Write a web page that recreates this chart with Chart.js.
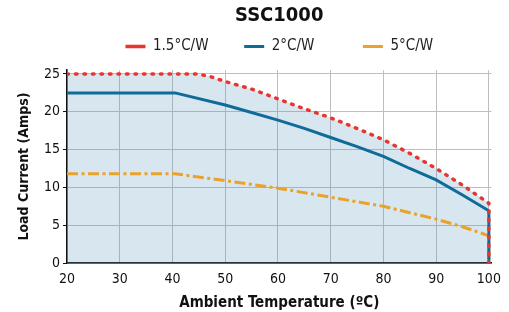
<!DOCTYPE html>
<html>
<head>
<meta charset="utf-8">
<script src="https://cdn.jsdelivr.net/npm/chart.js@4"></script>
<style>
  html, body { margin: 0; padding: 0; background: #fff; }
  #wrap { width: 509px; height: 312px; }
</style>
</head>
<body>
<div id="wrap"><canvas id="deratingChart" width="509" height="312"></canvas></div>
<script>
// values (temperature in C, current in amps)
const titleText = "SSC1000";
const seriesNames = ["1.5\u00B0C/W", "2\u00B0C/W", "5\u00B0C/W"];

const tempRed = [20, 44.5, 47, 50, 55, 60, 65, 70, 75, 80, 85, 90, 95, 100, 100];
const ampsRed = [25, 25, 24.7, 24.0, 23.0, 21.7, 20.4, 19.2, 17.8, 16.3, 14.5, 12.5, 10.3, 7.9, 0];

const tempBlue = [20, 40.5, 50, 55, 60, 65, 70, 75, 80, 85, 90, 95, 100, 100];
const ampsBlue = [22.5, 22.5, 20.9, 19.9, 18.9, 17.8, 16.6, 15.4, 14.1, 12.5, 11.0, 9.0, 6.9, 0];

const tempOrange = [20, 40.5, 50, 60, 70, 80, 90, 95, 100, 100];
const ampsOrange = [11.8, 11.8, 10.9, 9.9, 8.7, 7.5, 5.8, 4.8, 3.6, 0];

const xTicks = [20, 30, 40, 50, 60, 70, 80, 90, 100];
const yTicks = [0, 5, 10, 15, 20, 25];

// extra room after each legend entry (the reference spaces them unevenly)
const legendGaps = ["      ", "         ", ""];

const FONT = "'DejaVu Sans Condensed', 'Liberation Sans', sans-serif";

function toPoints(xs, ys) {
  return xs.map((x, i) => ({ x: x, y: ys[i] }));
}

const ctx = document.getElementById("deratingChart").getContext("2d");

const deratingChart = new Chart(ctx, {
  type: "line",
  data: {
    datasets: [
      {
        label: seriesNames[0],
        data: toPoints(tempRed, ampsRed),
        borderColor: "#e8352f",
        borderWidth: 3.5,
        borderDash: [1.5, 7],
        borderCapStyle: "round",
        backgroundColor: "rgba(100,160,190,0.25)",
        fill: "origin",
        pointRadius: 0,
        tension: 0,
      },
      {
        label: seriesNames[1],
        data: toPoints(tempBlue, ampsBlue),
        borderColor: "#0f6b98",
        borderWidth: 3,
        fill: false,
        pointRadius: 0,
        tension: 0,
      },
      {
        label: seriesNames[2],
        data: toPoints(tempOrange, ampsOrange),
        borderColor: "#e9a22c",
        borderWidth: 3,
        borderDash: [11, 3.5, 3, 3.5],
        fill: false,
        pointRadius: 0,
        tension: 0,
      },
    ],
  },
  options: {
    responsive: false,
    animation: false,
    layout: { padding: { left: 0, right: 16, top: 0, bottom: 0 } },
    plugins: {
      filler: { drawTime: "beforeDatasetsDraw" },
      tooltip: { enabled: false },
      title: {
        display: true,
        fullSize: false,
        text: titleText,
        color: "#111",
        font: { family: FONT, size: 20, weight: "bold" },
        padding: { top: 4, bottom: 1 },
      },
      // empty subtitle used only as a spacer between legend and plot
      subtitle: {
        display: true,
        fullSize: false,
        weight: 500,
        text: "",
        font: { size: 1 },
        padding: { top: 0, bottom: 5 },
      },
      legend: {
        position: "top",
        fullSize: false,
        labels: {
          color: "#222",
          font: { family: FONT, size: 15 },
          usePointStyle: true,
          pointStyle: "line",
          pointStyleWidth: 20,
          boxHeight: 4,
          padding: 10,
          generateLabels: (chart) => {
            const items = Chart.defaults.plugins.legend.labels.generateLabels(chart);
            items.forEach((it, i) => { it.text = it.text + legendGaps[i]; });
            return items;
          },
        },
      },
    },
    scales: {
      x: {
        type: "linear",
        min: 20,
        max: 100.5,
        afterBuildTicks: (s) => { s.ticks = xTicks.map((v) => ({ value: v })); },
        afterFit: (s) => { s.height = 49; },
        ticks: {
          color: "#111",
          font: { family: FONT, size: 14 },
          padding: 8,
          maxRotation: 0,
        },
        grid: { color: "#bdbdbd", lineWidth: 1, drawTicks: false },
        border: { color: "#111", width: 1.5 },
        title: {
          display: true,
          text: "Ambient Temperature (\u00BAC)",
          color: "#111",
          font: { family: FONT, size: 15, weight: "bold" },
          padding: { top: 1, bottom: 0 },
        },
      },
      y: {
        min: 0,
        max: 25.5,
        afterBuildTicks: (s) => { s.ticks = yTicks.map((v) => ({ value: v })); },
        afterFit: (s) => { s.width = 67; },
        ticks: {
          color: "#111",
          font: { family: FONT, size: 14 },
          padding: 3,
        },
        grid: { color: "#bdbdbd", lineWidth: 1, tickColor: "#111", tickLength: 4 },
        border: { color: "#111", width: 1.5 },
        title: {
          display: true,
          text: "Load Current (Amps)",
          color: "#111",
          font: { family: FONT, size: 14, weight: "bold" },
          padding: { top: 16, bottom: 2 },
        },
      },
    },
  },
});
</script>
</body>
</html>
